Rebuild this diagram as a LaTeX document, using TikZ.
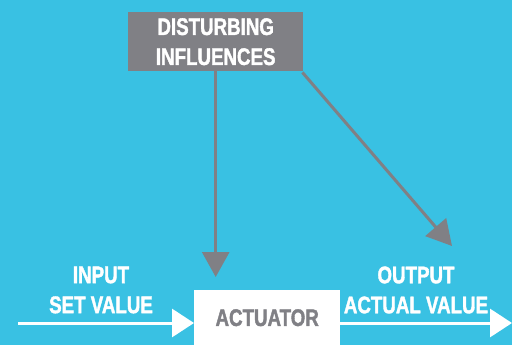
\documentclass[tikz,border=0pt]{standalone}
\usepackage{fontspec}
\newfontfamily\condbold{Liberation Sans}[FakeStretch=0.78,FakeBold=1.6,UprightFont=*-Bold]
\usetikzlibrary{arrows.meta}
\definecolor{bgblue}{HTML}{39C1E3}
\definecolor{boxgrey}{HTML}{808085}
\begin{document}
\begin{tikzpicture}[x=1pt,y=-1pt,
  lbl/.style={text=white,font=\fontsize{24}{30}\selectfont\condbold,align=center,inner sep=0pt},
  greyline/.style={draw=boxgrey,line width=3pt,-{Triangle[width=27pt,length=25pt]}},
  whiteline/.style={draw=white,line width=3pt,-{Triangle[width=28pt,length=22pt]}}]
\fill[bgblue] (0,0) rectangle (512,345);
\useasboundingbox (0,0) rectangle (512,345);
\node[fill=boxgrey,minimum width=175pt,minimum height=59pt,inner sep=0pt,lbl,anchor=north west] (dist) at (128,12) {DISTURBING\\INFLUENCES};
\node[fill=white,minimum width=146pt,minimum height=55pt,inner sep=0pt,anchor=north west,text=boxgrey,font=\fontsize{24}{30}\selectfont\condbold] (act) at (194,290) {\raisebox{-2pt}{ACTUATOR}};
\node[lbl] (inp) at (101,290) {INPUT\\SET VALUE};
\node[lbl] (outp) at (416,290) {OUTPUT\\ACTUAL VALUE};
\coordinate (instart) at (18,323);
\coordinate (outend) at (512,323);
\coordinate (diagend) at (452,246);
\draw[whiteline] (instart) -- (instart -| act.west);
\draw[whiteline] (act.east |- outend) -- (outend);
\draw[greyline] (dist.south) -- ([yshift=13pt]dist.south |- act.north);
\draw[greyline] ([xshift=-1pt,yshift=-1pt]dist.south east) -- (diagend);
\end{tikzpicture}
\end{document}
